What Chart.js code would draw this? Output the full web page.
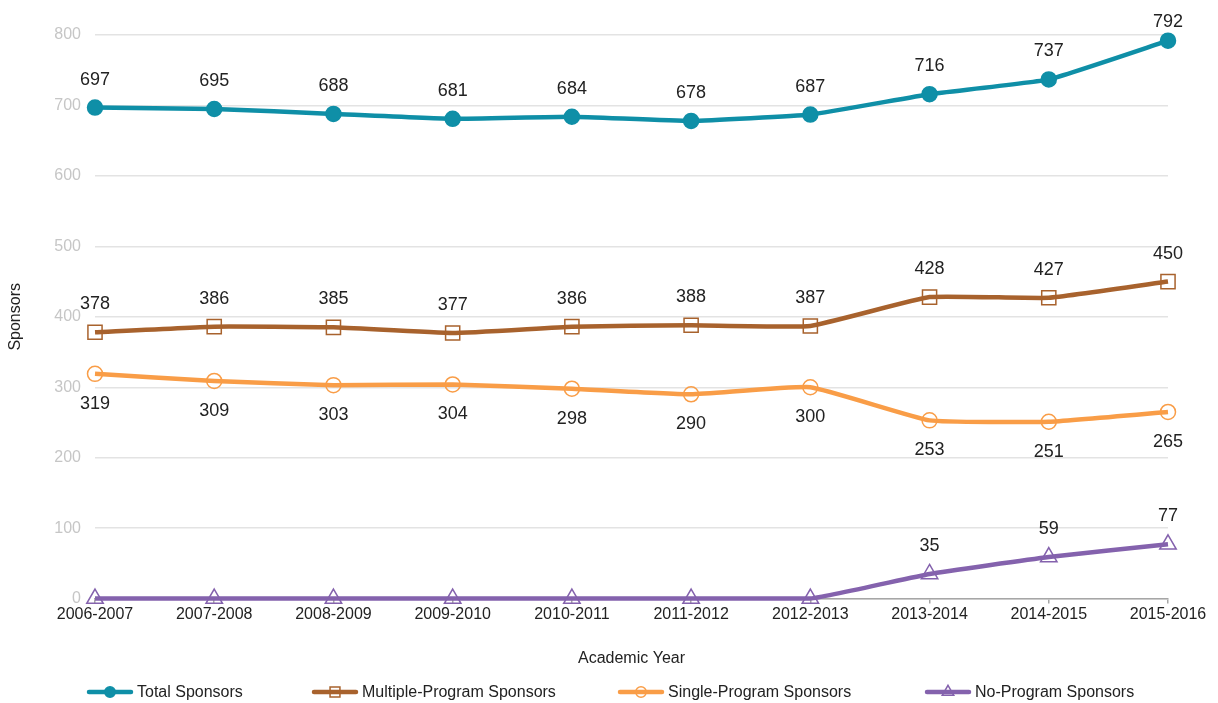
<!DOCTYPE html>
<html>
<head>
<meta charset="utf-8">
<script src="https://cdn.jsdelivr.net/npm/chart.js@4.4.1/dist/chart.umd.min.js"></script>
<style>
html,body{margin:0;padding:0;background:#fff;}
#wrap{width:1218px;height:703px;position:relative;}
</style>
</head>
<body>
<div id="wrap"><canvas id="c" width="1218" height="703"></canvas></div>
<script>
const categories = ["2006-2007","2007-2008","2008-2009","2009-2010","2010-2011","2011-2012","2012-2013","2013-2014","2014-2015","2015-2016"];
const totalSponsors = [697,695,688,681,684,678,687,716,737,792];
const multipleProgram = [378,386,385,377,386,388,387,428,427,450];
const singleProgram = [319,309,303,304,298,290,300,253,251,265];
const noProgram = [0,0,0,0,0,0,0,35,59,77];
const seriesNames = ["Total Sponsors","Multiple-Program Sponsors","Single-Program Sponsors","No-Program Sponsors"];
const yTicks = [0,100,200,300,400,500,600,700,800];

const FONT = "'Liberation Sans', Arial, sans-serif";
const colors = ["#0f8fa7","#a8622d","#f99d47","#8462ad"];
const labelPos = ["above","above","below","above"];
const legendX = [87, 312, 618, 925];

const dataLabelPlugin = {
  id: 'dataLabels',
  afterDatasetsDraw(chart) {
    const ctx = chart.ctx;
    ctx.save();
    ctx.font = "18px " + FONT;
    ctx.fillStyle = "#222";
    ctx.textAlign = "center";
    ctx.textBaseline = "middle";
    chart.data.datasets.forEach((ds, i) => {
      const meta = chart.getDatasetMeta(i);
      meta.data.forEach((pt, j) => {
        const v = ds.data[j];
        if (i === 3 && v === 0) return;
        const dy = labelPos[i] === "above" ? -28 : 30;
        const y = Math.max(22, pt.y + dy);
        ctx.fillText(String(v), pt.x, y);
      });
    });
    ctx.restore();
  }
};

const legendPlugin = {
  id: 'customLegend',
  afterDraw(chart) {
    const ctx = chart.ctx;
    ctx.save();
    ctx.font = "16px " + FONT;
    const markerW = 46, gapText = 4;
    const y = 692;
    chart.data.datasets.forEach((ds, i) => {
      const x = legendX[i];
      ctx.strokeStyle = ds.borderColor;
      ctx.lineWidth = 4.5;
      ctx.lineCap = "round";
      ctx.beginPath();
      ctx.moveTo(x + 2, y);
      ctx.lineTo(x + markerW - 2, y);
      ctx.stroke();
      const cx = x + markerW/2;
      ctx.lineWidth = 1.5;
      ctx.strokeStyle = ds.pointBorderColor;
      ctx.fillStyle = ds.pointBackgroundColor;
      Chart.helpers.drawPoint(ctx, {pointStyle: ds.pointStyle, radius: ds.pointRadius*0.7, borderWidth: 1.5}, cx, y);
      ctx.fillStyle = "#222";
      ctx.textAlign = "left";
      ctx.textBaseline = "middle";
      ctx.fillText(seriesNames[i], x + markerW + gapText, y + 1);
    });
    ctx.restore();
  }
};

function mkDataset(i, data, style, radius, filled) {
  return {
    label: seriesNames[i],
    data: data,
    borderColor: colors[i],
    backgroundColor: colors[i],
    borderWidth: 4.5,
    pointStyle: style,
    pointRadius: radius,
    pointHoverRadius: radius,
    pointBorderWidth: 1.5,
    pointBorderColor: colors[i],
    pointBackgroundColor: filled ? colors[i] : "rgba(0,0,0,0)",
    tension: 0.12,
    clip: false,
    fill: false
  };
}

new Chart(document.getElementById('c'), {
  type: 'line',
  data: {
    labels: categories,
    datasets: [
      mkDataset(0, totalSponsors, 'circle', 7.5, true),
      mkDataset(1, multipleProgram, 'rect', 10, false),
      mkDataset(2, singleProgram, 'circle', 7.5, false),
      mkDataset(3, noProgram, 'triangle', 9.5, false)
    ]
  },
  options: {
    responsive: false,
    animation: false,
    devicePixelRatio: 1,
    layout: { padding: { left: 6, right: 50, top: 35, bottom: 35 } },
    plugins: {
      legend: { display: false },
      tooltip: { enabled: false }
    },
    scales: {
      x: {
        offset: false,
        grid: { drawOnChartArea: false, drawTicks: true, tickLength: 5, color: "#a6a6a6", lineWidth: 1.5 },
        border: { display: true, color: "#a6a6a6", width: 1.5 },
        ticks: { color: "#222", font: { family: FONT, size: 16 }, padding: 1, maxRotation: 0, autoSkip: false },
        title: { display: true, text: "Academic Year", color: "#222", font: { family: FONT, size: 16 }, padding: { top: 24, bottom: 0 } }
      },
      y: {
        min: 0, max: 800,
        afterBuildTicks(scale) { scale.ticks = yTicks.map(v => ({ value: v })); },
        grid: { color: "#e3e3e3", lineWidth: 1.5, drawTicks: false },
        border: { display: false },
        ticks: { color: "#c6c6c6", font: { family: FONT, size: 16 }, padding: 14 },
        title: { display: true, text: "Sponsors", color: "#222", font: { family: FONT, size: 16 }, padding: { top: 0, bottom: 14 } },
        afterFit(scale) { scale.width = 89; }
      }
    }
  },
  plugins: [dataLabelPlugin, legendPlugin]
});
</script>
</body>
</html>
